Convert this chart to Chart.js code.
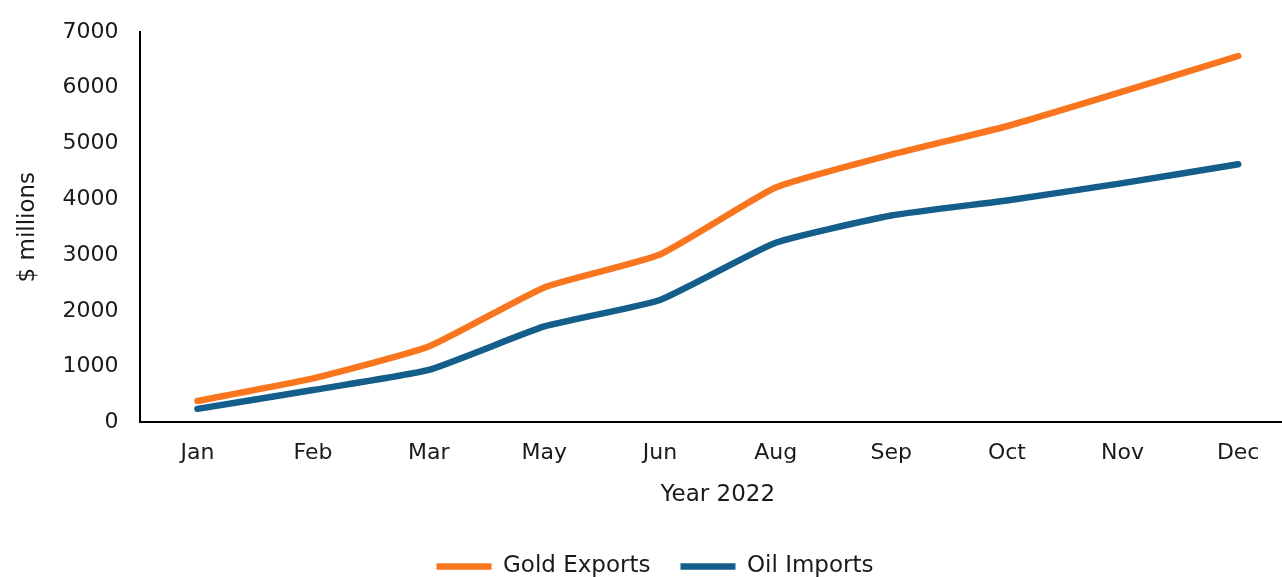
<!DOCTYPE html>
<html>
<head>
<meta charset="utf-8">
<script src="https://cdn.jsdelivr.net/npm/chart.js@4/dist/chart.umd.min.js"></script>
<style>
  html, body { margin: 0; padding: 0; background: #fff; overflow: hidden; }
  #wrap { position: relative; width: 1296px; height: 577px; }
</style>
</head>
<body>
<div id="wrap"><canvas id="c"></canvas></div>
<script>
const categories = ["Jan", "Feb", "Mar", "May", "Jun", "Aug", "Sep", "Oct", "Nov", "Dec"];
const goldExports = [385, 790, 1360, 2420, 3010, 4210, 4800, 5310, 5930, 6570];
const oilImports = [243, 580, 940, 1720, 2195, 3220, 3710, 3980, 4290, 4630];
const yTicks = [0, 1000, 2000, 3000, 4000, 5000, 6000, 7000];

const FONT = "'DejaVu Sans', sans-serif";
const TXT = "#1a1a1a";

new Chart(document.getElementById('c'), {
  type: 'line',
  data: {
    labels: categories,
    datasets: [
      { label: 'Gold Exports', data: goldExports, borderColor: '#FA761E', backgroundColor: '#FA761E',
        borderWidth: 6.5, pointRadius: 0, tension: 0.15, borderCapStyle: 'round', borderJoinStyle: 'round' },
      { label: 'Oil Imports', data: oilImports, borderColor: '#135E8A', backgroundColor: '#135E8A',
        borderWidth: 6.5, pointRadius: 0, tension: 0.15, borderCapStyle: 'round', borderJoinStyle: 'round' }
    ]
  },
  options: {
    responsive: true,
    maintainAspectRatio: false,
    animation: false,
    layout: { padding: { top: -3, left: 14, right: 0, bottom: -11 } },
    plugins: {
      tooltip: { enabled: false },
      legend: {
        position: 'bottom',
        labels: {
          usePointStyle: true, pointStyle: 'line', pointStyleWidth: 55,
          color: TXT, font: { family: FONT, size: 23 }, padding: 30, boxHeight: 6
        }
      }
    },
    scales: {
      x: {
        offset: true,
        grid: { display: false, drawTicks: false },
        border: { display: true, color: '#000', width: 2 },
        ticks: { color: TXT, font: { family: FONT, size: 22, lineHeight: 1 }, padding: 20 },
        title: { display: true, text: 'Year 2022', color: TXT, font: { family: FONT, size: 23 }, padding: { top: -3, bottom: 16 } }
      },
      y: {
        min: 0, max: 7000,
        afterBuildTicks: (s) => { s.ticks = yTicks.map(v => ({ value: v })); },
        grid: { display: false, drawTicks: false },
        border: { display: true, color: '#000', width: 2 },
        ticks: { color: TXT, font: { family: FONT, size: 22, lineHeight: 1 }, padding: 21, callback: (v) => String(v) },
        title: { display: true, text: '$ millions', color: TXT, font: { family: FONT, size: 23 }, padding: { top: 0, bottom: 0 } }
      }
    }
  }
});
</script>
</body>
</html>
